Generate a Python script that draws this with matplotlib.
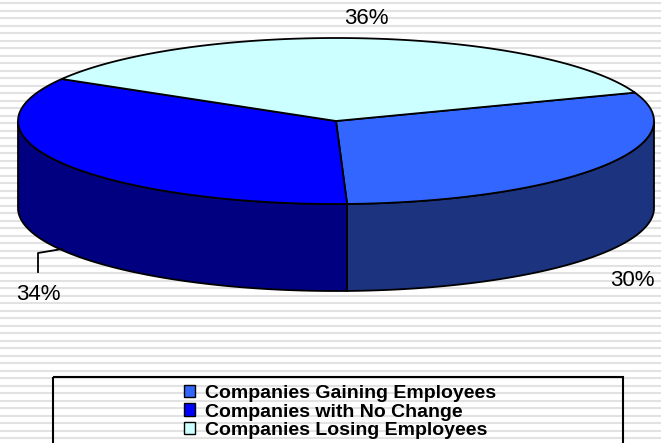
import numpy as np
import matplotlib
matplotlib.use("Agg")
import matplotlib.pyplot as plt
from matplotlib.patches import Polygon, Rectangle, Patch

plt.rcParams["font.family"] = ["Liberation Sans", "DejaVu Sans"]

labels = ["Companies Gaining Employees", "Companies with No Change", "Companies Losing Employees"]
values = [30, 34, 36]
top_colors = ["#3366FF", "#0000FF", "#CCFFFF"]
side_colors = ["#1C3480", "#000080", "#9ACCCC"]
pct_labels = ["30%", "34%", "36%"]

# layout (pixels, y grows downwards)
W, H = 661, 443
cx, cy, rx, ry, depth = 336, 121, 318, 83, 87
start_angle = 20
label_pos = [(632, 280), (38, 294), (366, 18)]

fig = plt.figure(figsize=(W / 100, H / 100), dpi=100)
ax = fig.add_axes([0, 0, 1, 1])
ax.set_xlim(0, W)
ax.set_ylim(H, 0)
ax.axis("off")

# striped background
for y in np.arange(3.3, H, 7.5):
    ax.axhline(y, color="#e2e2e2", lw=1.5, zorder=0)


def arc(a1, a2, n=200):
    t = np.radians(np.linspace(a1, a2, n))
    return cx + rx * np.cos(t), cy - ry * np.sin(t)


# slice angles, clockwise from start_angle
spans = np.array(values) / sum(values) * 360
bounds = []
a = start_angle
for s in spans:
    bounds.append((a - s, a))
    a -= s

# side walls (front half only)
for (lo, hi), sc in zip(bounds, side_colors):
    for k in (-1, 0, 1):
        f_lo, f_hi = -180 + 360 * k, 0 + 360 * k
        a1, a2 = max(lo, f_lo), min(hi, f_hi)
        if a2 <= a1:
            continue
        x, y = arc(a1, a2)
        pts = np.concatenate([np.column_stack([x, y]),
                              np.column_stack([x[::-1], y[::-1] + depth])])
        ax.add_patch(Polygon(pts, closed=True, facecolor=sc, edgecolor="black",
                             lw=1.3, zorder=2))

# top faces
for (lo, hi), tc in zip(bounds, top_colors):
    x, y = arc(lo, hi)
    pts = np.concatenate([[[cx, cy]], np.column_stack([x, y])])
    ax.add_patch(Polygon(pts, closed=True, facecolor=tc, edgecolor="black",
                         lw=1.3, zorder=3))

# percentage labels
for (lx, ly), t in zip(label_pos, pct_labels):
    ax.text(lx, ly, t, fontsize=16, ha="center", va="center", zorder=4)

# leader line for the 34% label
ax.plot([62, 38, 38], [249, 253, 272], color="black", lw=1.3, zorder=4)

# legend
ax.add_patch(Rectangle((53, 377), 570, 80, facecolor="none", edgecolor="black",
                       lw=1.5, zorder=4))
handles = [Patch(facecolor=c, edgecolor="black", lw=1) for c in top_colors]
fig.legend(handles, labels, loc="center", bbox_to_anchor=(340 / W, (H - 412) / H),
           frameon=False, prop={"weight": "bold", "size": 14},
           labelspacing=0.08, handlelength=0.6, handleheight=0.6,
           handletextpad=0.5, borderpad=0)

fig.savefig("out.png", dpi=100)
